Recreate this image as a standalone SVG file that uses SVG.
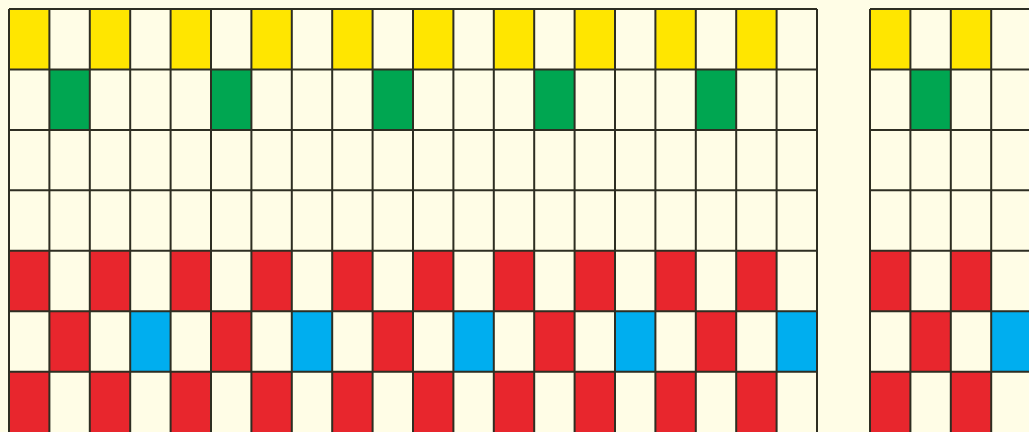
<svg xmlns="http://www.w3.org/2000/svg" width="1029" height="432" viewBox="0 0 1029 432">
<style>
.y{fill:#FFE600}.g{fill:#00A651}.r{fill:#E8262D}.b{fill:#00AEEF}
.ln{stroke:#2E2E22;stroke-width:2;fill:none}
</style>
<defs>
<rect id="c" width="40.4" height="60.45"/>
</defs>
<rect width="1029" height="432" fill="#FFFDE6"/>
<g id="gridA-cells">
<g class="y">
<use href="#c" x="9" y="9"/><use href="#c" x="89.8" y="9"/><use href="#c" x="170.6" y="9"/><use href="#c" x="251.4" y="9"/><use href="#c" x="332.2" y="9"/><use href="#c" x="413" y="9"/><use href="#c" x="493.8" y="9"/><use href="#c" x="574.6" y="9"/><use href="#c" x="655.4" y="9"/><use href="#c" x="736.2" y="9"/>
</g>
<g class="g">
<use href="#c" x="49.4" y="69.45"/><use href="#c" x="211" y="69.45"/><use href="#c" x="372.6" y="69.45"/><use href="#c" x="534.2" y="69.45"/><use href="#c" x="695.8" y="69.45"/>
</g>
<g class="r">
<use href="#c" x="9" y="250.8"/><use href="#c" x="89.8" y="250.8"/><use href="#c" x="170.6" y="250.8"/><use href="#c" x="251.4" y="250.8"/><use href="#c" x="332.2" y="250.8"/><use href="#c" x="413" y="250.8"/><use href="#c" x="493.8" y="250.8"/><use href="#c" x="574.6" y="250.8"/><use href="#c" x="655.4" y="250.8"/><use href="#c" x="736.2" y="250.8"/>
<use href="#c" x="49.4" y="311.25"/><use href="#c" x="211" y="311.25"/><use href="#c" x="372.6" y="311.25"/><use href="#c" x="534.2" y="311.25"/><use href="#c" x="695.8" y="311.25"/>
<use href="#c" x="9" y="371.7"/><use href="#c" x="89.8" y="371.7"/><use href="#c" x="170.6" y="371.7"/><use href="#c" x="251.4" y="371.7"/><use href="#c" x="332.2" y="371.7"/><use href="#c" x="413" y="371.7"/><use href="#c" x="493.8" y="371.7"/><use href="#c" x="574.6" y="371.7"/><use href="#c" x="655.4" y="371.7"/><use href="#c" x="736.2" y="371.7"/>
</g>
<g class="b">
<use href="#c" x="130.2" y="311.25"/><use href="#c" x="291.8" y="311.25"/><use href="#c" x="453.4" y="311.25"/><use href="#c" x="615" y="311.25"/><use href="#c" x="776.6" y="311.25"/>
</g>
</g>
<g id="gridB-cells">
<use href="#c" class="y" x="870" y="9"/><use href="#c" class="y" x="950.8" y="9"/>
<use href="#c" class="g" x="910.4" y="69.45"/>
<use href="#c" class="r" x="870" y="250.8"/><use href="#c" class="r" x="950.8" y="250.8"/>
<use href="#c" class="r" x="910.4" y="311.25"/><use href="#c" class="b" x="991.2" y="311.25"/>
<use href="#c" class="r" x="870" y="371.7"/><use href="#c" class="r" x="950.8" y="371.7"/>
</g>
<g id="gridA-lines" class="ln">
<path d="M9 9V432M49.4 9V432M89.8 9V432M130.2 9V432M170.6 9V432M211 9V432M251.4 9V432M291.8 9V432M332.2 9V432M372.6 9V432M413 9V432M453.4 9V432M493.8 9V432M534.2 9V432M574.6 9V432M615 9V432M655.4 9V432M695.8 9V432M736.2 9V432M776.6 9V432M817 9V432"/>
<path d="M9 9H817M9 69.45H817M9 129.9H817M9 190.35H817M9 250.8H817M9 311.25H817M9 371.7H817"/>
</g>
<g id="gridB-lines" class="ln">
<path d="M870 9V432M910.4 9V432M950.8 9V432M991.2 9V432"/>
<path d="M870 9H1029M870 69.45H1029M870 129.9H1029M870 190.35H1029M870 250.8H1029M870 311.25H1029M870 371.7H1029"/>
</g>
</svg>
